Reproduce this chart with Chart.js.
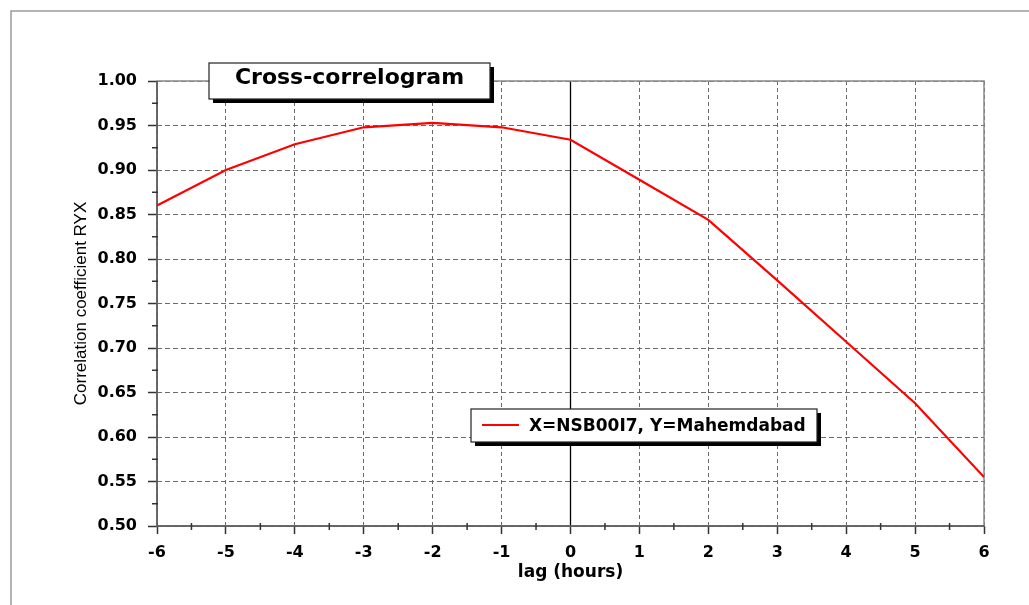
<!DOCTYPE html>
<html>
<head>
<meta charset="utf-8">
<script src="https://cdn.jsdelivr.net/npm/chart.js@4/dist/chart.umd.min.js"></script>
<style>
  html, body { margin: 0; padding: 0; background: #fff; }
  canvas { display: block; }
</style>
</head>
<body>
<canvas id="myChart" width="1029" height="605"></canvas>
<script>
const lags = [-6, -5, -4, -3, -2, -1, 0, 1, 2, 3, 4, 5, 6];
const ryx = [0.860, 0.900, 0.929, 0.948, 0.953, 0.948, 0.934, 0.889, 0.844, 0.776, 0.707, 0.638, 0.555];
const seriesName = "X=NSB00I7, Y=Mahemdabad";
const chartTitle = "Cross-correlogram";

const boldFont = "bold 16px 'DejaVu Sans'";

// frame, zero line, minor ticks, title box and legend box
const decor = {
  id: "decor",
  beforeDraw(chart) {
    const ctx = chart.ctx;
    ctx.save();
    ctx.fillStyle = "#fff";
    ctx.fillRect(0, 0, chart.width, chart.height);
    ctx.strokeStyle = "#9a9a9a";
    ctx.lineWidth = 1.5;
    ctx.beginPath();
    ctx.moveTo(11, chart.height);
    ctx.lineTo(11, 11);
    ctx.lineTo(chart.width, 11);
    ctx.stroke();
    ctx.restore();
  },
  beforeDatasetsDraw(chart) {
    const ctx = chart.ctx;
    const a = chart.chartArea;
    const x = chart.scales.x, y = chart.scales.y;
    ctx.save();
    // zero lag line
    ctx.strokeStyle = "#000";
    ctx.lineWidth = 1.3;
    ctx.beginPath();
    ctx.moveTo(x.getPixelForValue(0), a.top);
    ctx.lineTo(x.getPixelForValue(0), a.bottom);
    ctx.stroke();
    // plot frame
    ctx.strokeStyle = "#8a8a8a";
    ctx.lineWidth = 1.5;
    ctx.strokeRect(a.left, a.top, a.right - a.left, a.bottom - a.top);
    ctx.strokeStyle = "#555";
    ctx.beginPath();
    ctx.moveTo(a.left, a.top);
    ctx.lineTo(a.left, a.bottom);
    ctx.lineTo(a.right, a.bottom);
    ctx.stroke();
    // minor ticks
    ctx.strokeStyle = "#333";
    ctx.lineWidth = 1.5;
    for (let v = 0.525; v < 1; v += 0.05) {
      const py = y.getPixelForValue(v);
      ctx.beginPath();
      ctx.moveTo(a.left - 5, py);
      ctx.lineTo(a.left + 1, py);
      ctx.stroke();
    }
    for (let v = -5.5; v < 6; v += 1) {
      const px = x.getPixelForValue(v);
      ctx.beginPath();
      ctx.moveTo(px, a.bottom - 3);
      ctx.lineTo(px, a.bottom + 4);
      ctx.stroke();
    }
    ctx.restore();
  },
  afterDraw(chart) {
    const ctx = chart.ctx;
    const a = chart.chartArea;
    const box = (bx, by, bw, bh) => {
      ctx.fillStyle = "#000";
      ctx.fillRect(bx + 4, by + 4, bw, bh);
      ctx.fillStyle = "#fff";
      ctx.fillRect(bx, by, bw, bh);
      ctx.strokeStyle = "#222";
      ctx.lineWidth = 1.2;
      ctx.strokeRect(bx, by, bw, bh);
    };
    ctx.save();
    // title box
    box(a.left + 52, a.top - 18, 281, 36);
    ctx.fillStyle = "#000";
    ctx.font = "bold 22px 'DejaVu Sans'";
    ctx.textAlign = "center";
    ctx.textBaseline = "alphabetic";
    ctx.fillText(chartTitle, a.left + 52 + 140.5, a.top + 3);
    // legend box
    const lx = a.left + 314, ly = a.top + 328;
    box(lx, ly, 346, 33);
    ctx.strokeStyle = "#ff0000";
    ctx.lineWidth = 2;
    ctx.beginPath();
    ctx.moveTo(lx + 11, ly + 16);
    ctx.lineTo(lx + 48, ly + 16);
    ctx.stroke();
    ctx.fillStyle = "#000";
    ctx.font = "bold 17px 'DejaVu Sans'";
    ctx.textAlign = "left";
    ctx.fillText(seriesName, lx + 58, ly + 22);
    ctx.restore();
  }
};

const ctx = document.getElementById("myChart").getContext("2d");

new Chart(ctx, {
  type: "line",
  data: {
    datasets: [
      {
        label: seriesName,
        data: lags.map((lag, i) => ({ x: lag, y: ryx[i] })),
        borderColor: "#ff0000",
        borderWidth: 2.2,
        pointRadius: 0,
        tension: 0,
        fill: false
      }
    ]
  },
  options: {
    responsive: false,
    animation: false,
    layout: { padding: { left: 60, top: 81, right: 45, bottom: 10 } },
    plugins: {
      legend: { display: false },
      tooltip: { enabled: false }
    },
    scales: {
      x: {
        type: "linear",
        min: -6,
        max: 6,
        afterFit: (scale) => { scale.height = 69; },
        ticks: {
          stepSize: 1,
          padding: 9,
          color: "#000",
          font: { family: "DejaVu Sans", size: 16, weight: "bold" }
        },
        grid: {
          color: "#6a6a6a",
          lineWidth: 1,
          tickLength: 8,
          tickColor: "#333",
          tickWidth: 1.5,
          tickBorderDash: []
        },
        border: { display: false, dash: [4, 3] },
        title: {
          display: true,
          text: "lag (hours)",
          color: "#000",
          padding: { top: 0, bottom: 12 },
          font: { family: "DejaVu Sans", size: 17, weight: "bold" }
        }
      },
      y: {
        min: 0.5,
        max: 1.0,
        afterFit: (scale) => { scale.width = 97; },
        ticks: {
          stepSize: 0.05,
          padding: 11,
          color: "#000",
          font: { family: "DejaVu Sans", size: 16, weight: "bold" },
          callback: (v) => v.toFixed(2)
        },
        grid: {
          color: "#6a6a6a",
          lineWidth: 1,
          tickLength: 9,
          tickColor: "#333",
          tickWidth: 1.5,
          tickBorderDash: []
        },
        border: { display: false, dash: [5, 3] },
        title: {
          display: true,
          text: "Correlation coefficient RYX",
          color: "#000",
          padding: { top: 11, bottom: 0 },
          font: { family: "Liberation Sans", size: 17 }
        }
      }
    }
  },
  plugins: [decor]
});
</script>
</body>
</html>
